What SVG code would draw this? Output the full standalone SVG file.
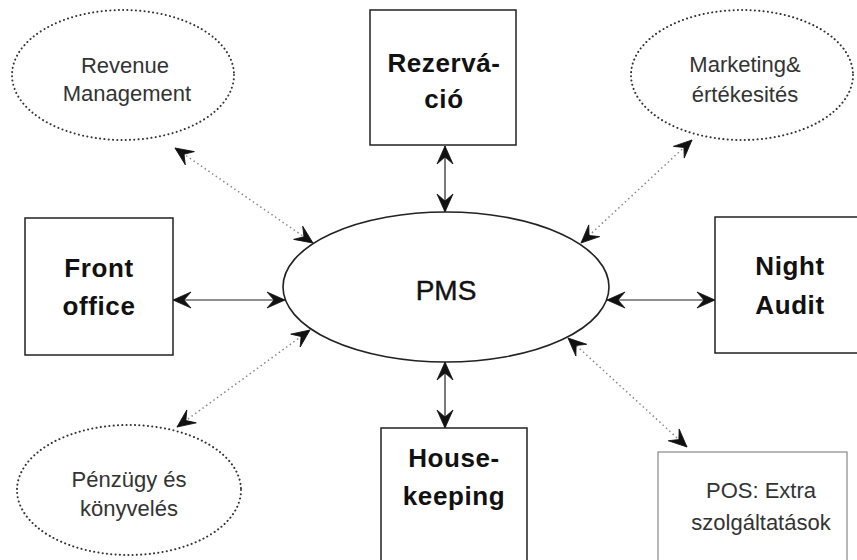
<svg xmlns="http://www.w3.org/2000/svg" width="857" height="560" viewBox="0 0 857 560">
  <style>
    .box { fill: #fff; stroke: #222; stroke-width: 1.5; }
    .box-light { fill: #fff; stroke: #888; stroke-width: 1.2; }
    .oval-dot { fill: #fff; stroke: #333; stroke-width: 2; stroke-dasharray: 0.1 4.2; stroke-linecap: round; }
    .core { fill: #fff; stroke: #222; stroke-width: 1.6; }
    .bold { font-family: "Liberation Sans", Arial, sans-serif; font-weight: bold; font-size: 26px; fill: #111; text-anchor: middle; letter-spacing: 0.6px; }
    .plain { font-family: "Liberation Sans", Arial, sans-serif; font-size: 22px; fill: #333; text-anchor: middle; }
    .core-label { font-family: "Liberation Sans", Arial, sans-serif; font-size: 28px; fill: #111; text-anchor: middle; stroke: #111; stroke-width: 0.4; }
    .solid { stroke: #222; stroke-width: 1.2; fill: none; marker-start: url(#head); marker-end: url(#head); }
    .dotted { stroke: #888; stroke-width: 1.5; fill: none; stroke-dasharray: 1.5 3; marker-start: url(#head); marker-end: url(#head); }
  </style>
  <defs>
    <!-- notched arrowhead shared by all connectors -->
    <marker id="head" markerUnits="userSpaceOnUse" markerWidth="22" markerHeight="20" viewBox="-1 -10 22 20" refX="18" refY="0" orient="auto-start-reverse">
      <path d="M0,-8 L18,0 L0,8 L7,0 Z" fill="#111" stroke="#111" stroke-width="0.8" stroke-linejoin="round"/>
    </marker>
  </defs>

  <rect width="857" height="560" fill="#fff"/>

  <!-- connectors -->
  <g id="connectors">
    <line class="solid" x1="173" y1="300" x2="285" y2="300"/>
    <line class="solid" x1="607" y1="300" x2="715" y2="300"/>
    <line class="solid" x1="445" y1="146" x2="445" y2="212"/>
    <line class="solid" x1="445" y1="362" x2="445" y2="428"/>
    <line class="dotted" x1="175" y1="148" x2="313" y2="243"/>
    <line class="dotted" x1="692" y1="140" x2="581" y2="243"/>
    <line class="dotted" x1="177" y1="427" x2="310" y2="330"/>
    <line class="dotted" x1="687" y1="447" x2="568" y2="338"/>
  </g>

  <!-- central system -->
  <g id="pms">
    <ellipse class="core" cx="446" cy="287" rx="163" ry="75"/>
    <text class="core-label" x="446" y="300">PMS</text>
  </g>

  <g id="rezervacio">
    <rect class="box" x="370" y="10" width="146" height="135"/>
    <text class="bold" x="444" y="72">Rezervá-</text>
    <text class="bold" x="444" y="108">ció</text>
  </g>

  <g id="front-office">
    <rect class="box" x="25" y="218" width="148" height="137"/>
    <text class="bold" x="99" y="277">Front</text>
    <text class="bold" x="99" y="315">office</text>
  </g>

  <g id="night-audit">
    <rect class="box" x="715" y="217" width="150" height="136"/>
    <text class="bold" x="790" y="275">Night</text>
    <text class="bold" x="790" y="314">Audit</text>
  </g>

  <g id="housekeeping">
    <rect class="box" x="381" y="428" width="146" height="140"/>
    <text class="bold" x="454" y="467">House-</text>
    <text class="bold" x="454" y="505">keeping</text>
  </g>

  <g id="revenue-management">
    <ellipse class="oval-dot" cx="123" cy="75" rx="111" ry="65"/>
    <text class="plain" x="125" y="73">Revenue</text>
    <text class="plain" x="127" y="101">Management</text>
  </g>

  <g id="marketing">
    <ellipse class="oval-dot" cx="742" cy="75" rx="111" ry="65"/>
    <text class="plain" x="745" y="72">Marketing&amp;</text>
    <text class="plain" x="745" y="102">értékesités</text>
  </g>

  <g id="penzugy">
    <ellipse class="oval-dot" cx="129" cy="490" rx="112" ry="65"/>
    <text class="plain" x="129" y="487">Pénzügy és</text>
    <text class="plain" x="129" y="516">könyvelés</text>
  </g>

  <g id="pos">
    <rect class="box-light" x="658" y="452" width="189" height="120"/>
    <text class="plain" x="761" y="498">POS: Extra</text>
    <text class="plain" x="761" y="530">szolgáltatások</text>
  </g>
</svg>
